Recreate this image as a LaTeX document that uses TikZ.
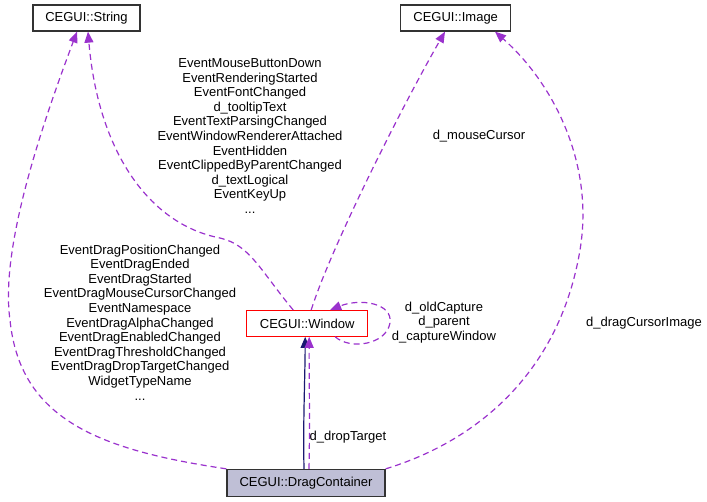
\documentclass[tikz,border=0pt]{standalone}
\usepackage{fontspec}
\setmainfont{Liberation Sans}
\usetikzlibrary{arrows.meta}
\definecolor{edgepurple}{RGB}{154,50,205}
\definecolor{midblue}{RGB}{25,25,112}
\definecolor{focusfill}{RGB}{191,191,214}
\begin{document}
\begin{tikzpicture}[x=1pt,y=-1pt,
  every node/.style={font=\fontsize{13pt}{14.6pt}\selectfont, inner sep=0pt},
  cls/.style={draw=black!80, line width=1.3pt, rectangle, fill=white},
  lbl/.style={align=center},
  dep/.style={draw=edgepurple, line width=1.2pt, dash pattern=on 6pt off 4pt, -{Triangle[length=11pt,width=9pt]}},
  inh/.style={draw=midblue, line width=1.2pt, -{Triangle[length=11pt,width=9pt]}}]
\useasboundingbox (0,0) rectangle (707,501);

% classes
\node[cls, minimum width=107pt, minimum height=26pt] (str) at (86.5,18) {CEGUI::String};
\node[cls, minimum width=110pt, minimum height=26pt] (img) at (455.7,18) {CEGUI::Image};
\node[cls, draw=red, minimum width=121pt, minimum height=25.5pt] (win) at (307.2,323.4) {CEGUI::Window};
\node[cls, fill=focusfill, minimum width=158pt, minimum height=27pt] (dc) at (306,483) {CEGUI::DragContainer};

% labels
\node[lbl] (l1) at (250,136) {EventMouseButtonDown\\EventRenderingStarted\\EventFontChanged\\d\_tooltipText\\EventTextParsingChanged\\EventWindowRendererAttached\\EventHidden\\EventClippedByParentChanged\\d\_textLogical\\EventKeyUp\\...};
\node[lbl] (l2) at (140,322.3) {EventDragPositionChanged\\EventDragEnded\\EventDragStarted\\EventDragMouseCursorChanged\\EventNamespace\\EventDragAlphaChanged\\EventDragEnabledChanged\\EventDragThresholdChanged\\EventDragDropTargetChanged\\WidgetTypeName\\...};
\node[lbl] (l3) at (479,136) {d\_mouseCursor};
\node[lbl] (l4) at (444,322.5) {d\_oldCapture\\d\_parent\\d\_captureWindow};
\node[lbl] (l5) at (644,322.7) {d\_dragCursorImage};
\node[lbl] (l6) at (348,436.7) {d\_dropTarget};

% edges
\draw[inh] ([xshift=-2pt]dc.north) .. controls (303,420) and (305,380) .. ([xshift=-2pt]win.south);
\draw[dep] ([xshift=3pt]dc.north) .. controls (310,420) and (309,380) .. ([xshift=2pt]win.south);
\draw[dep] (dc.north west) .. controls (100,450) and (20,420) .. (10,320)
  .. controls (0,250) and (40,130) .. ([xshift=-9.5pt]str.south);
\draw[dep] ([xshift=-14pt]win.north) .. controls (260,270) and (250,245) .. (220,238)
  .. controls (148,224) and (98,150) .. ([xshift=1.5pt]str.south);
\draw[dep] ([xshift=4pt]win.north) .. controls (330,250) and (400,110) .. ([xshift=-10.7pt]img.south);
\draw[dep] (dc.north east) .. controls (480,440) and (560,370) .. (580,250)
  .. controls (595,160) and (550,80) .. ([xshift=39.3pt]img.south);
\draw[dep] ([xshift=28pt]win.south) .. controls (350,350) and (386,345) .. (390,323)
  .. controls (393,303) and (360,298) .. ([xshift=23pt]win.north);
\end{tikzpicture}
\end{document}
